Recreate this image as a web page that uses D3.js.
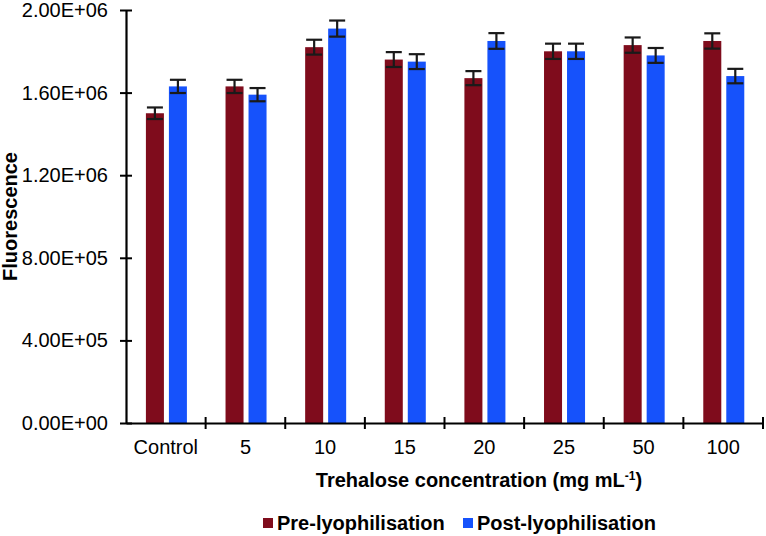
<!DOCTYPE html>
<html>
<head>
<meta charset="utf-8">
<script src="https://cdn.jsdelivr.net/npm/d3@7"></script>
<style>
  html, body { margin: 0; padding: 0; background: #fff; }
  svg { display: block; font-family: Arial, "Liberation Sans", sans-serif; }
</style>
</head>
<body>
<svg id="chart" width="766" height="536"></svg>
<script>
const categories = ["Control", "5", "10", "15", "20", "25", "50", "100"];
const seriesNames = ["Pre-lyophilisation", "Post-lyophilisation"];
const preValues  = [1.50e6, 1.63e6, 1.82e6, 1.76e6, 1.67e6, 1.80e6, 1.83e6, 1.85e6];
const postValues = [1.63e6, 1.59e6, 1.91e6, 1.75e6, 1.85e6, 1.80e6, 1.78e6, 1.68e6];
const preErrors  = [0.028e6, 0.032e6, 0.036e6, 0.036e6, 0.034e6, 0.037e6, 0.037e6, 0.037e6];
const postErrors = [0.032e6, 0.032e6, 0.039e6, 0.036e6, 0.038e6, 0.037e6, 0.036e6, 0.035e6];
const yTicks = [0, 4e5, 8e5, 1.2e6, 1.6e6, 2e6];
const yTickLabels = ["0.00E+00", "4.00E+05", "8.00E+05", "1.20E+06", "1.60E+06", "2.00E+06"];
const colors = ["#7f0c1c", "#1652fb"];

(function () {
const svg = d3.select("#chart");
const mLeft = 126, mRight = 763, mTop = 10, mBottom = 423;
const FONT = "Arial, 'Liberation Sans', sans-serif";
const fs = 20;

const x = d3.scaleBand().domain(categories).range([mLeft, mRight]).paddingInner(0).paddingOuter(0);
const bw = x.bandwidth();
const x1 = d3.scaleBand().domain(seriesNames).range([bw * 0.25, bw * 0.765]).paddingInner(0.217).paddingOuter(0);
const y = d3.scaleLinear().domain([0, 2e6]).range([mBottom, mTop]);
const color = d3.scaleOrdinal().domain(seriesNames).range(colors);

const rows = categories.map((c, i) => ({
  cat: c,
  vals: [
    { s: seriesNames[0], v: preValues[i], e: preErrors[i] },
    { s: seriesNames[1], v: postValues[i], e: postErrors[i] }
  ]
}));

const g = svg.append("g");
const groups = g.selectAll("g.cat").data(rows).join("g")
  .attr("class", "cat")
  .attr("transform", d => `translate(${x(d.cat)},0)`);

groups.selectAll("rect").data(d => d.vals).join("rect")
  .attr("x", d => x1(d.s))
  .attr("width", x1.bandwidth())
  .attr("y", d => y(d.v))
  .attr("height", d => y(0) - y(d.v))
  .attr("fill", d => color(d.s));

const capHalf = 8;
const eb = groups.selectAll("g.err").data(d => d.vals).join("g").attr("class", "err")
  .attr("stroke", "#1a1a1a").attr("stroke-width", 2.2).attr("fill", "none");
eb.append("line")
  .attr("x1", d => x1(d.s) + x1.bandwidth() / 2)
  .attr("x2", d => x1(d.s) + x1.bandwidth() / 2)
  .attr("y1", d => y(d.v + d.e))
  .attr("y2", d => y(d.v - d.e));
eb.append("line")
  .attr("x1", d => x1(d.s) + x1.bandwidth() / 2 - capHalf)
  .attr("x2", d => x1(d.s) + x1.bandwidth() / 2 + capHalf)
  .attr("y1", d => y(d.v + d.e))
  .attr("y2", d => y(d.v + d.e));
eb.append("line")
  .attr("x1", d => x1(d.s) + x1.bandwidth() / 2 - capHalf)
  .attr("x2", d => x1(d.s) + x1.bandwidth() / 2 + capHalf)
  .attr("y1", d => y(d.v - d.e))
  .attr("y2", d => y(d.v - d.e));

// y axis
const yAxis = d3.axisLeft(y).tickValues(yTicks)
  .tickFormat((d, i) => yTickLabels[i]).tickSize(6).tickSizeOuter(0).tickPadding(12);
const gy = svg.append("g").attr("transform", `translate(${mLeft},0)`).call(yAxis);
gy.attr("font-size", fs).attr("font-family", FONT);
gy.select(".domain").attr("stroke", "#000").attr("stroke-width", 2.2);
gy.selectAll(".tick line").attr("stroke", "#000").attr("stroke-width", 2).attr("x2", 6).attr("x1", -6);
gy.selectAll(".tick text").attr("font-size", fs).attr("fill", "#000").attr("x", -18);

// x axis
const xAxis = d3.axisBottom(x).tickSize(0).tickSizeOuter(0).tickPadding(17);
const gx = svg.append("g").attr("transform", `translate(0,${mBottom})`).call(xAxis);
gx.attr("font-size", fs).attr("font-family", FONT);
gx.select(".domain").attr("stroke", "#000").attr("stroke-width", 2.2);
gx.selectAll(".tick text").attr("font-size", fs).attr("fill", "#000");
const boundaries = categories.map(c => x(c) + bw);
gx.selectAll("line.sep").data(boundaries).join("line").attr("class", "sep")
  .attr("x1", d => d).attr("x2", d => d)
  .attr("y1", -6).attr("y2", 6)
  .attr("stroke", "#000").attr("stroke-width", 2);

// axis titles
svg.append("text")
  .attr("transform", `translate(17,${(mTop + mBottom) / 2}) rotate(-90)`)
  .attr("text-anchor", "middle")
  .attr("font-size", fs).attr("font-weight", "bold").attr("fill", "#000")
  .text("Fluorescence");

const xt = svg.append("text")
  .attr("x", 479).attr("y", 487)
  .attr("text-anchor", "middle")
  .attr("font-size", fs).attr("font-weight", "bold").attr("fill", "#000");
xt.append("tspan").text("Trehalose concentration (mg mL");
xt.append("tspan").attr("dy", -7).attr("font-size", 12).text("-1");
xt.append("tspan").attr("dy", 7).text(")");

// legend
const legendX = [263, 463];
const lg = svg.selectAll("g.legend").data(seriesNames).join("g").attr("class", "legend")
  .attr("transform", (d, i) => `translate(${legendX[i]},519)`);
lg.append("rect").attr("width", 10).attr("height", 10).attr("y", -1).attr("fill", d => color(d));
lg.append("text").attr("x", 14).attr("y", 11)
  .attr("font-size", fs).attr("font-weight", "bold").attr("fill", "#000")
  .text(d => d);
})();
</script>
</body>
</html>
